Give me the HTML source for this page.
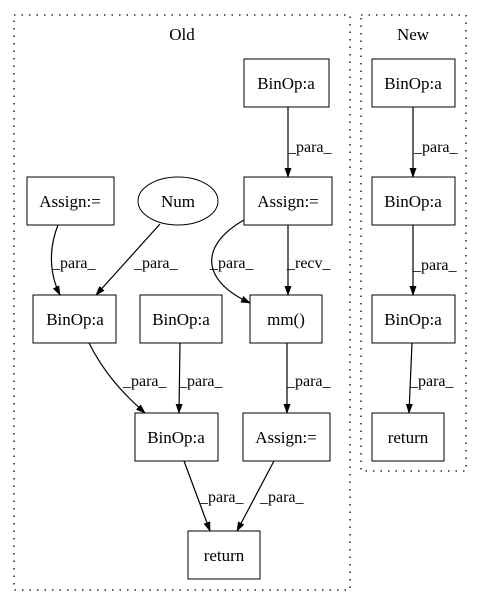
<!DOCTYPE html>
<html><head><style>body{margin:0;background:#fff}svg{display:block}text{font-family:"Liberation Serif",serif;font-size:17px;fill:#000}</style></head>
<body>
<svg width="481" height="606" viewBox="0 0 481 606" xmlns="http://www.w3.org/2000/svg">
<defs><marker id="a" markerWidth="10" markerHeight="10" refX="9" refY="5" orient="auto" markerUnits="userSpaceOnUse"><path d="M0,1.5 L10,5 L0,8.5z" fill="#000"/></marker></defs>
<g fill="none" stroke="#000" stroke-dasharray="1.5,6" stroke-width="1.3">
<rect x="14" y="15" width="336" height="575"/>
<rect x="361" y="15" width="105" height="456"/>
</g>
<text x="182" y="40" text-anchor="middle">Old</text>
<text x="413" y="40" text-anchor="middle">New</text>
<g fill="#fff" stroke="#000" stroke-width="1">
<rect x="244" y="59" width="85" height="48"/>
<rect x="244" y="177" width="88" height="48"/>
<rect x="27" y="177" width="87" height="48"/>
<ellipse cx="178" cy="201" rx="40" ry="24"/>
<rect x="33" y="295" width="83" height="48"/>
<rect x="140" y="295" width="82" height="48"/>
<rect x="250" y="295" width="72" height="48"/>
<rect x="135" y="413" width="83" height="48"/>
<rect x="243" y="413" width="87" height="48"/>
<rect x="188" y="531" width="72" height="48"/>
<rect x="372" y="59" width="83" height="48"/>
<rect x="372" y="177" width="83" height="48"/>
<rect x="372" y="295" width="83" height="48"/>
<rect x="372" y="413" width="72" height="48"/>
</g>
<g text-anchor="middle">
<text x="286" y="89">BinOp:a</text>
<text x="288" y="207">Assign:=</text>
<text x="70" y="207">Assign:=</text>
<text x="178" y="207">Num</text>
<text x="75" y="325">BinOp:a</text>
<text x="181" y="325">BinOp:a</text>
<text x="286" y="325">mm()</text>
<text x="176" y="443">BinOp:a</text>
<text x="286" y="443">Assign:=</text>
<text x="224" y="561">return</text>
<text x="413" y="89">BinOp:a</text>
<text x="413" y="207">BinOp:a</text>
<text x="413" y="325">BinOp:a</text>
<text x="408" y="443">return</text>
</g>
<g fill="none" stroke="#000" stroke-width="1.2" marker-end="url(#a)">
<path d="M288,107 L288,177"/>
<path d="M288,225 L288,295"/>
<path d="M244,220 C200,245 200,280 250,303"/>
<path d="M58,225 C48,250 50,275 60,295"/>
<path d="M160,224 L96,295"/>
<path d="M89,343 C105,375 125,395 145,413"/>
<path d="M180,343 L179,413"/>
<path d="M287,343 L287,413"/>
<path d="M184,461 L210,531"/>
<path d="M274,461 L237,531"/>
<path d="M413,107 L413,177"/>
<path d="M413,225 L413,295"/>
<path d="M412,343 L409,413"/>
</g>
<g font-size="16">
<text x="288" y="152" style="font-size:16px">_para_</text>
<text x="414" y="152" style="font-size:16px">_para_</text>
<text x="52" y="268" style="font-size:16px">_para_</text>
<text x="134" y="268" style="font-size:16px">_para_</text>
<text x="210" y="268" style="font-size:16px">_para_</text>
<text x="287" y="268" style="font-size:16px">_recv_</text>
<text x="123" y="386" style="font-size:16px">_para_</text>
<text x="179" y="386" style="font-size:16px">_para_</text>
<text x="287" y="386" style="font-size:16px">_para_</text>
<text x="413" y="270" style="font-size:16px">_para_</text>
<text x="410" y="386" style="font-size:16px">_para_</text>
<text x="200" y="502" style="font-size:16px">_para_</text>
<text x="260" y="502" style="font-size:16px">_para_</text>
</g>
</svg>
</body></html>
